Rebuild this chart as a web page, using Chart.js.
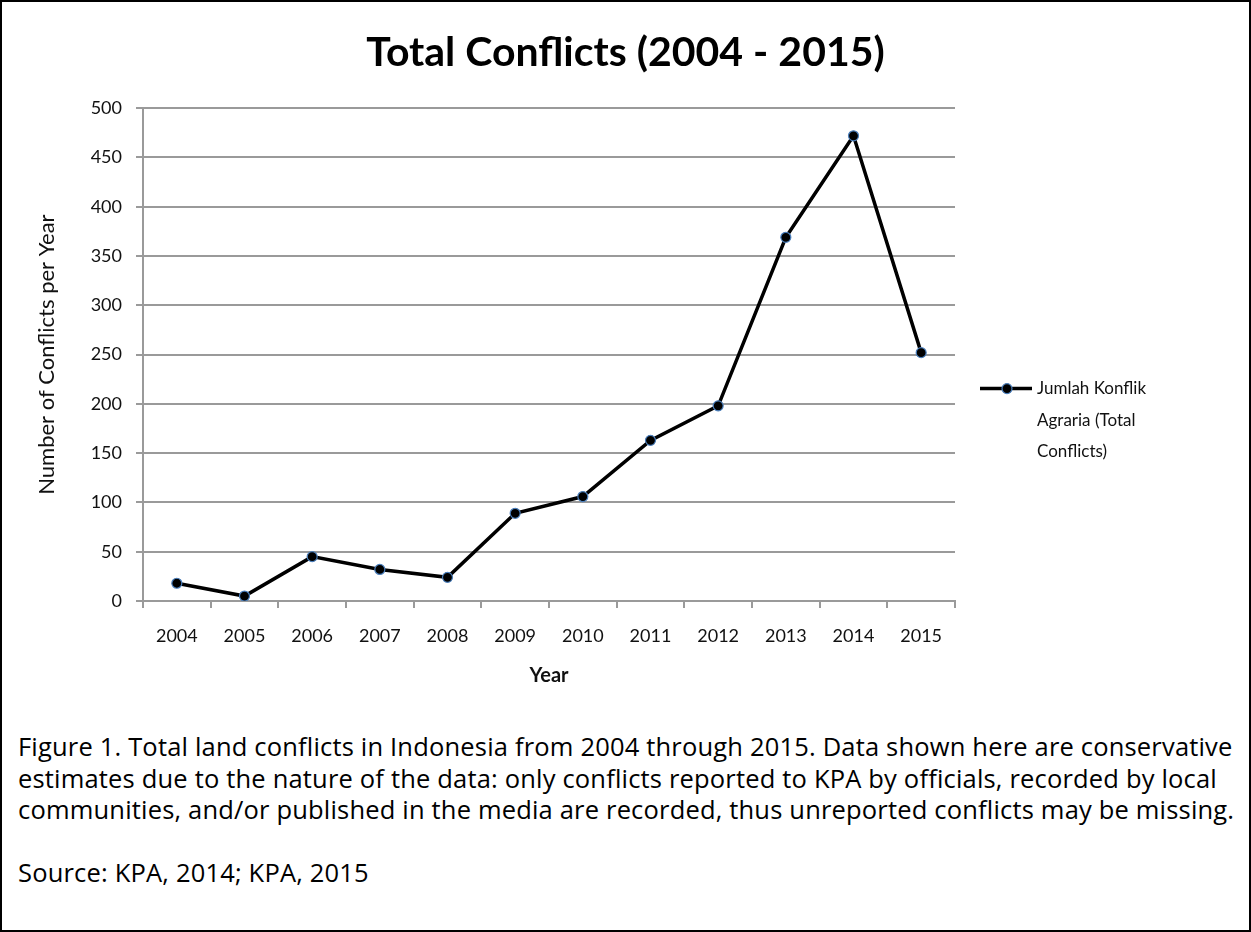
<!DOCTYPE html>
<html>
<head>
<meta charset="utf-8">
<script src="https://cdn.jsdelivr.net/npm/chart.js@4/dist/chart.umd.min.js"></script>
<style>
  html, body { margin: 0; padding: 0; background: #fff; }
  body { width: 1251px; height: 932px; position: relative; overflow: hidden; }
  #frame {
    position: absolute; left: 0; top: 0; width: 1251px; height: 932px;
    box-sizing: border-box; border: 2px solid #000; pointer-events: none;
  }
  #chart { position: absolute; left: 0; top: 0; }
  #caption {
    position: absolute; left: 18px; top: 731px;
    font-family: "Open Sans", Lato, sans-serif; font-size: 25.5px;
    letter-spacing: 0.18px;
    line-height: 31.5px; color: #000; white-space: nowrap;
  }
</style>
</head>
<body>
<canvas id="chart" width="1251" height="715"></canvas>
<div id="caption">
  Figure 1. Total land conflicts in Indonesia from 2004 through 2015. Data shown here are conservative<br>
  estimates due to the nature of the data: only conflicts reported to KPA by officials, recorded by local<br>
  communities, and/or published in the media are recorded, thus unreported conflicts may be missing.<br>
  <br>
  Source: KPA, 2014; KPA, 2015
</div>
<div id="frame"></div>
<script>
// Yearly land-conflict counts
const years = ['2004', '2005', '2006', '2007', '2008', '2009', '2010', '2011', '2012', '2013', '2014', '2015'];
const totalConflicts = [18, 5, 45, 32, 24, 89, 106, 163, 198, 369, 472, 252];
const seriesName = 'Jumlah Konflik Agraria (Total Conflicts)';
const chartTitle = 'Total Conflicts (2004 - 2015)';
const yAxisTitle = 'Number of Conflicts per Year';
const xAxisTitle = 'Year';

const FONT = 'Lato, "Open Sans", sans-serif';
const GRID = '#9a9a9a';
const LINE = '#000000';
const MARKER_EDGE = '#4a7ebb';
const LEGEND_WIDTH = 296;

// Right-hand layout box holding the legend; the series name is wrapped over several lines
const sideLegend = {
  id: 'sideLegend',
  beforeInit(chart) {
    const box = {
      position: 'right',
      weight: 10,
      fullSize: false,
      options: {},
      width: LEGEND_WIDTH, height: 0, left: 0, top: 0, right: 0, bottom: 0,
      isHorizontal() { return false; },
      getPadding() { return { top: 0, left: 0, right: 0, bottom: 0 }; },
      update(maxWidth, maxHeight) {
        this.width = LEGEND_WIDTH;
        this.height = maxHeight;
      },
      draw() {
        const ctx = chart.ctx;
        const area = chart.chartArea;
        const ds = chart.data.datasets[0];
        ctx.save();
        ctx.font = '17px ' + FONT;
        const words = ds.label.split(' ');
        const lines = [];
        let cur = '';
        words.forEach(w => {
          const test = cur ? cur + ' ' + w : w;
          if (ctx.measureText(test).width > 140 && cur) { lines.push(cur); cur = w; }
          else cur = test;
        });
        if (cur) lines.push(cur);

        const x0 = this.left + 25;
        const firstY = (area.top + area.bottom) / 2 + 34;
        const lineH = 31.5;
        ctx.strokeStyle = ds.borderColor;
        ctx.lineWidth = ds.borderWidth;
        ctx.beginPath();
        ctx.moveTo(x0, firstY);
        ctx.lineTo(x0 + 52, firstY);
        ctx.stroke();
        ctx.beginPath();
        ctx.arc(x0 + 27, firstY, ds.pointRadius, 0, Math.PI * 2);
        ctx.fillStyle = ds.pointBackgroundColor;
        ctx.fill();
        ctx.lineWidth = ds.pointBorderWidth;
        ctx.strokeStyle = ds.pointBorderColor;
        ctx.stroke();
        ctx.fillStyle = '#111';
        ctx.textBaseline = 'middle';
        ctx.textAlign = 'left';
        lines.forEach((t, i) => ctx.fillText(t, x0 + 57, firstY + i * lineH));
        ctx.restore();
      }
    };
    Chart.layouts.addBox(chart, box);
  }
};

new Chart(document.getElementById('chart'), {
  type: 'line',
  data: {
    labels: years,
    datasets: [{
      label: seriesName,
      data: totalConflicts,
      borderColor: LINE,
      borderWidth: 3.5,
      tension: 0,
      pointRadius: 5,
      pointHoverRadius: 5,
      pointBackgroundColor: '#000',
      pointBorderColor: MARKER_EDGE,
      pointBorderWidth: 1.2,
      fill: false
    }]
  },
  options: {
    responsive: false,
    animation: false,
    devicePixelRatio: 1,
    layout: { padding: 0 },
    plugins: {
      legend: { display: false },
      tooltip: { enabled: false },
      title: {
        display: true,
        text: chartTitle,
        color: '#000',
        font: { family: FONT, size: 41, weight: 'bold' },
        padding: { top: 28, bottom: 31 }
      }
    },
    scales: {
      x: {
        offset: true,
        grid: {
          offset: true,
          drawOnChartArea: false,
          drawTicks: true,
          tickLength: 7,
          color: GRID,
          lineWidth: 2
        },
        border: { display: true, color: GRID, width: 2 },
        ticks: {
          color: '#111',
          font: { family: FONT, size: 18 },
          padding: 17,
          maxRotation: 0,
          autoSkip: false
        },
        title: {
          display: true,
          text: xAxisTitle,
          color: '#111',
          font: { family: FONT, size: 20, weight: 'bold' },
          padding: { top: 0, bottom: 27 }
        },
        afterFit(scale) { scale.height = 114; }
      },
      y: {
        min: 0,
        max: 500,
        ticks: {
          stepSize: 50,
          color: '#111',
          font: { family: FONT, size: 18 },
          padding: 14
        },
        grid: {
          color: GRID,
          lineWidth: 2,
          drawTicks: true,
          tickLength: 7
        },
        border: { display: true, color: GRID, width: 2 },
        title: {
          display: true,
          text: yAxisTitle,
          color: '#111',
          font: { family: FONT, size: 22 },
          padding: { top: 34, bottom: 0 }
        },
        afterFit(scale) { scale.width = 143; }
      }
    }
  },
  plugins: [sideLegend]
});
</script>
</body>
</html>
